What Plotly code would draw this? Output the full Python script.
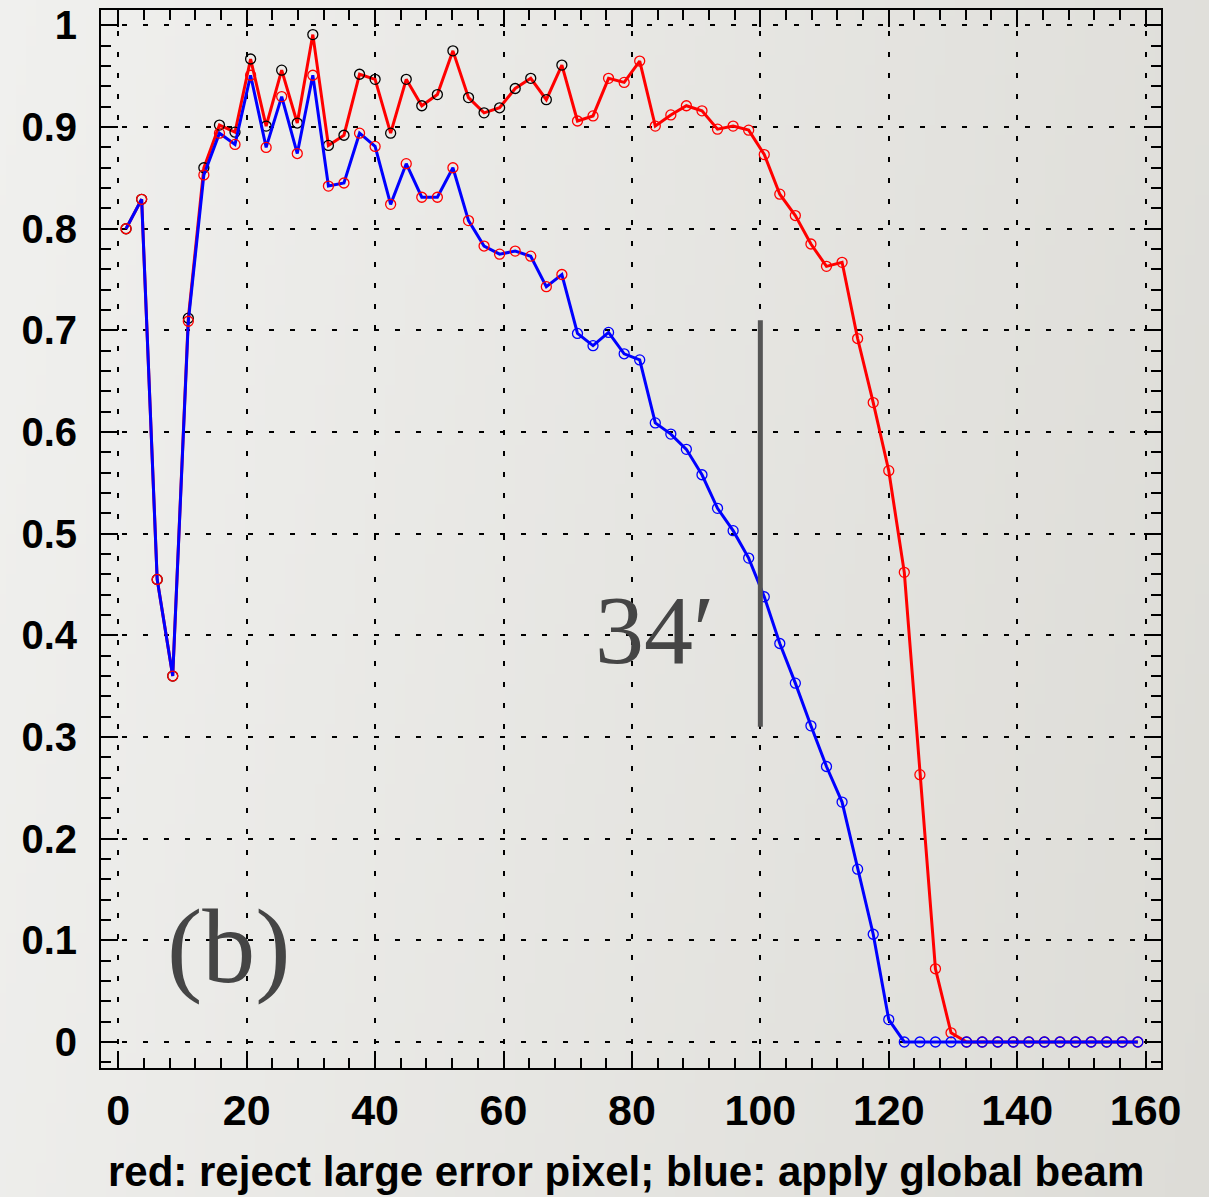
import base64
import struct
import zlib

import plotly.graph_objects as go

# Bin centres (arcmin)
x_bins = [
    1.21, 3.64, 6.06, 8.48, 10.91, 13.33, 15.76, 18.18, 20.61, 23.03,
    25.45, 27.88, 30.30, 32.73, 35.15, 37.58, 40.00, 42.42, 44.85, 47.27,
    49.70, 52.12, 54.55, 56.97, 59.39, 61.82, 64.24, 66.67, 69.09, 71.52,
    73.94, 76.36, 78.79, 81.21, 83.64, 86.06, 88.48, 90.91, 93.33, 95.76,
    98.18, 100.61, 103.03, 105.45, 107.88, 110.30, 112.73, 115.15, 117.58, 120.00,
    122.42, 124.85, 127.27, 129.70, 132.12, 134.55, 136.97, 139.39, 141.82, 144.24,
    146.67, 149.09, 151.52, 153.94, 156.36, 158.79,
]

# red: reject large error pixel
red_values = [
    0.800, 0.829, 0.455, 0.360, 0.712, 0.860, 0.902, 0.895, 0.967, 0.901,
    0.956, 0.904, 0.991, 0.882, 0.892, 0.952, 0.947, 0.894, 0.947, 0.921,
    0.932, 0.975, 0.929, 0.914, 0.919, 0.938, 0.948, 0.927, 0.961, 0.906,
    0.911, 0.948, 0.944, 0.965, 0.901, 0.912, 0.921, 0.916, 0.898, 0.901,
    0.897, 0.873, 0.834, 0.813, 0.785, 0.763, 0.767, 0.692, 0.629, 0.562,
    0.462, 0.263, 0.072, 0.009, 0.0, 0.0, 0.0, 0.0, 0.0, 0.0,
    0.0, 0.0, 0.0, 0.0, 0.0, 0.0,
]

# blue: apply global beam
blue_values = [
    0.800, 0.829, 0.455, 0.360, 0.709, 0.853, 0.894, 0.883, 0.951, 0.880,
    0.930, 0.874, 0.951, 0.842, 0.845, 0.894, 0.881, 0.824, 0.864, 0.831,
    0.831, 0.860, 0.808, 0.783, 0.775, 0.778, 0.773, 0.743, 0.755, 0.697,
    0.685, 0.698, 0.677, 0.671, 0.609, 0.598, 0.583, 0.558, 0.525, 0.503,
    0.476, 0.438, 0.392, 0.353, 0.311, 0.271, 0.236, 0.170, 0.106, 0.022,
    0.0, 0.0, 0.0, 0.0, 0.0, 0.0, 0.0, 0.0, 0.0, 0.0,
    0.0, 0.0, 0.0, 0.0, 0.0, 0.0,
]

# Marker colours switch after the first 29 bins
split = 29
red_marker_colors = ["black"] * split + ["red"] * (len(x_bins) - split)
blue_marker_colors = ["red"] * split + ["blue"] * (len(x_bins) - split)

x_ticks = [0, 20, 40, 60, 80, 100, 120, 140, 160]
y_ticks = [0, 0.1, 0.2, 0.3, 0.4, 0.5, 0.6, 0.7, 0.8, 0.9, 1]
y_tick_labels = ["0", "0.1", "0.2", "0.3", "0.4", "0.5", "0.6", "0.7", "0.8", "0.9", "1"]

marker_x = 100
marker_y = [0.31, 0.71]
marker_label = "34′"
panel_label = "(b)"
axis_caption = "red: reject large error pixel; blue: apply global beam"


def gradient_png(w, h, c0, c1):
    """Small RGB PNG with a left-to-right (slightly diagonal) gradient."""
    rows = []
    for j in range(h):
        v = j / (h - 1)
        row = bytearray([0])
        for i in range(w):
            u = i / (w - 1)
            t = 0.85 * u + 0.15 * v
            for k in range(3):
                row.append(int(round(c0[k] + (c1[k] - c0[k]) * t)))
        rows.append(bytes(row))
    raw = b"".join(rows)

    def chunk(tag, data):
        return (struct.pack(">I", len(data)) + tag + data
                + struct.pack(">I", zlib.crc32(tag + data) & 0xFFFFFFFF))

    png = (b"\x89PNG\r\n\x1a\n"
           + chunk(b"IHDR", struct.pack(">IIBBBBB", w, h, 8, 2, 0, 0, 0))
           + chunk(b"IDAT", zlib.compress(raw))
           + chunk(b"IEND", b""))
    return "data:image/png;base64," + base64.b64encode(png).decode()


W, H = 1209, 1197
ML, MR, MT, MB = 101, 48, 10, 129
PW, PH = W - ML - MR, H - MT - MB

fig = go.Figure()

fig.add_trace(go.Scatter(
    x=x_bins, y=red_values, mode="lines+markers",
    line=dict(color="red", width=3),
    marker=dict(symbol="circle-open", size=10, color=red_marker_colors,
                line=dict(width=1.3)),
    showlegend=False,
))
fig.add_trace(go.Scatter(
    x=x_bins, y=blue_values, mode="lines+markers",
    line=dict(color="blue", width=3),
    marker=dict(symbol="circle-open", size=10, color=blue_marker_colors,
                line=dict(width=1.3)),
    showlegend=False,
))

fig.add_shape(type="line", x0=marker_x, x1=marker_x, y0=marker_y[0], y1=marker_y[1],
              xref="x", yref="y", line=dict(color="#555555", width=5))

fig.add_annotation(x=83.5, y=0.405, xref="x", yref="y", text=marker_label,
                   showarrow=False, xanchor="center", yanchor="middle",
                   font=dict(family="Liberation Serif", size=98, color="#454545"))
fig.add_annotation(x=17.2, y=0.094, xref="x", yref="y", text=panel_label,
                   showarrow=False, xanchor="center", yanchor="middle",
                   font=dict(family="Liberation Serif", size=106, color="#454545"))
fig.add_annotation(x=0.495, y=-0.098, xref="paper", yref="paper", text=axis_caption,
                   showarrow=False, xanchor="center", yanchor="middle",
                   font=dict(family="Liberation Sans", size=42, color="black", weight="bold"))

fig.add_layout_image(
    source=gradient_png(121, 120, (0xF0, 0xF0, 0xEE), (0xDD, 0xDC, 0xD7)),
    xref="paper", yref="paper",
    x=-ML / PW, y=1 + MT / PH,
    sizex=W / PW, sizey=H / PH,
    xanchor="left", yanchor="top", sizing="stretch", layer="below",
)

axis_common = dict(
    showline=True, linecolor="black", linewidth=2, mirror="allticks",
    ticks="inside", ticklen=17, tickwidth=2, tickcolor="black",
    showgrid=True, gridcolor="black", gridwidth=2, griddash="5px,16px",
    zeroline=False, automargin=False,
)

fig.update_xaxes(
    range=[-2.69, 162.4], tickvals=x_ticks,
    minor=dict(dtick=4, tick0=0, ticks="inside", ticklen=10, tickwidth=2,
               tickcolor="black", showgrid=False),
    ticklabelstandoff=3,
    tickfont=dict(family="Liberation Sans", size=43, color="black", weight="bold"),
    **axis_common,
)
fig.update_yaxes(
    range=[-0.0256, 1.0152], tickvals=y_ticks, ticktext=y_tick_labels,
    minor=dict(dtick=0.02, tick0=0, ticks="inside", ticklen=10, tickwidth=2,
               tickcolor="black", showgrid=False),
    ticklabelstandoff=14,
    tickfont=dict(family="Liberation Sans", size=40, color="black", weight="bold"),
    **axis_common,
)

fig.update_layout(
    width=W, height=H,
    margin=dict(l=ML, r=MR, t=MT, b=MB, pad=0),
    paper_bgcolor="#e8e7e3",
    plot_bgcolor="rgba(0,0,0,0)",
)

fig.write_html("out.html")
